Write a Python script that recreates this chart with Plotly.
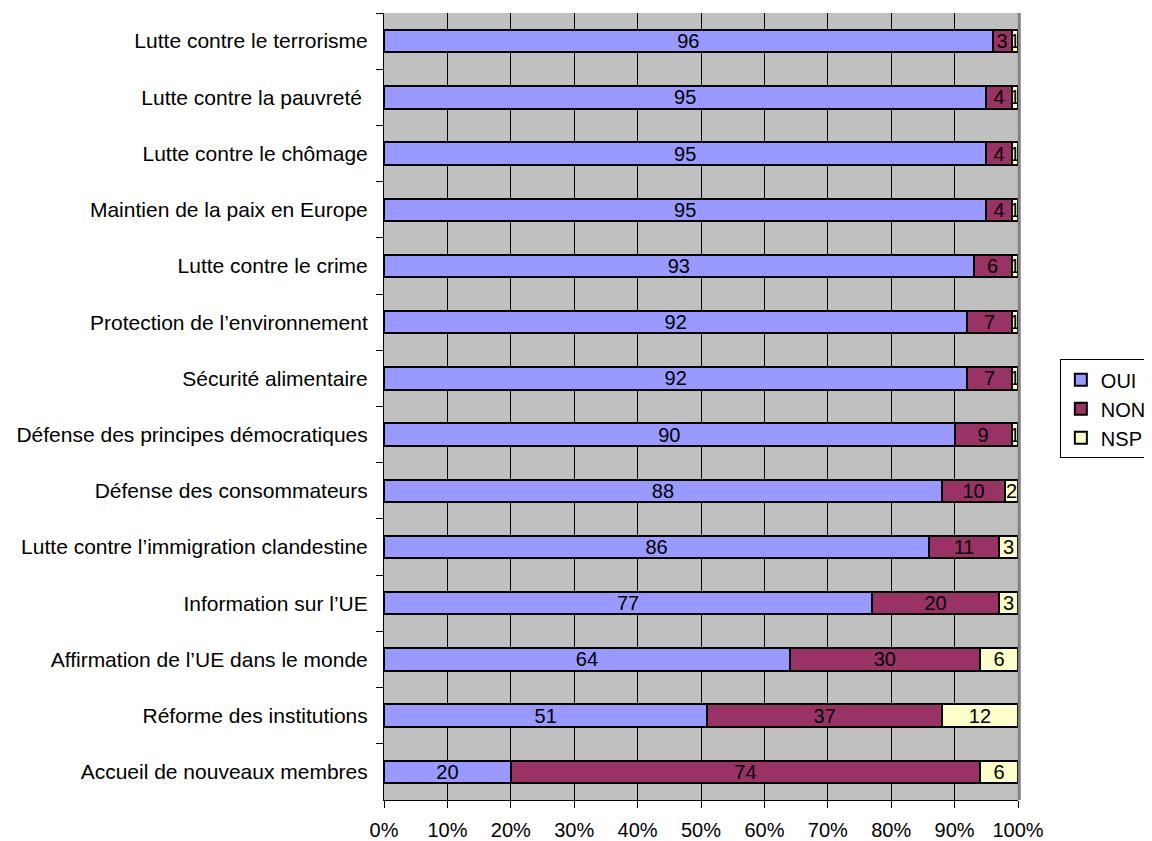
import plotly.graph_objects as go

# categories, top to bottom
categories = [
    "Lutte contre le terrorisme",
    "Lutte contre la pauvreté ",
    "Lutte contre le chômage",
    "Maintien de la paix en Europe",
    "Lutte contre le crime",
    "Protection de l\u2019environnement",
    "Sécurité alimentaire",
    "Défense des principes démocratiques",
    "Défense des consommateurs",
    "Lutte contre l\u2019immigration clandestine",
    "Information sur l\u2019UE",
    "Affirmation de l\u2019UE dans le monde",
    "Réforme des institutions",
    "Accueil de nouveaux membres",
]
oui = [96, 95, 95, 95, 93, 92, 92, 90, 88, 86, 77, 64, 51, 20]
non = [3, 4, 4, 4, 6, 7, 7, 9, 10, 11, 20, 30, 37, 74]
nsp = [1, 1, 1, 1, 1, 1, 1, 1, 2, 3, 3, 6, 12, 6]
x_ticks = [0, 10, 20, 30, 40, 50, 60, 70, 80, 90, 100]

font_family = "Liberation Sans, Arial, sans-serif"

fig = go.Figure()
for name, vals, color in [("OUI", oui, "#9999FF"), ("NON", non, "#993366"), ("NSP", nsp, "#FFFFCC")]:
    fig.add_trace(go.Bar(
        name=name,
        y=categories,
        x=vals,
        orientation="h",
        marker=dict(color=color, line=dict(color="black", width=2)),
        text=[str(v) for v in vals],
        textposition="inside",
        textangle=0,
        insidetextanchor="middle",
        textfont=dict(color="black", size=20, family=font_family),
        hoverinfo="x+y+name",
    ))

# the page body adds an 8px margin at top/left, so the figure is 8px smaller than the window
fig.update_layout(
    barmode="stack",
    bargap=0.6,
    width=1144,
    height=833,
    margin=dict(l=376, r=134, t=5, b=41, autoexpand=False),
    plot_bgcolor="#C0C0C0",
    paper_bgcolor="white",
    font=dict(family=font_family, size=20, color="black"),
    uniformtext=dict(mode="show", minsize=20),
    showlegend=True,
    legend=dict(
        x=1.066, y=0.497, xanchor="left", yanchor="middle",
        bordercolor="black", borderwidth=1,
        font=dict(size=20),
        traceorder="normal",
        itemwidth=30,
        tracegroupgap=0,
    ),
    xaxis=dict(
        range=[0, 100],
        tickvals=x_ticks,
        ticktext=[f"{v}%" for v in x_ticks],
        showgrid=True, gridcolor="black", gridwidth=1,
        showline=True, linecolor="black", linewidth=1,
        ticks="outside", ticklen=7, tickcolor="black",
        ticklabelstandoff=5,
        zeroline=False,
        fixedrange=True,
    ),
    yaxis=dict(
        autorange="reversed",
        tickson="boundaries",
        ticks="outside", ticklen=7, tickcolor="black",
        tickfont=dict(size=21),
        showline=True, linecolor="black", linewidth=1,
        showgrid=False,
        ticklabelstandoff=11,
        fixedrange=True,
    ),
    shapes=[dict(type="line", xref="paper", yref="paper", x0=1.002, x1=1.002, y0=0, y1=1,
                 line=dict(color="#808080", width=3))],
)

fig.write_html("out.html")
